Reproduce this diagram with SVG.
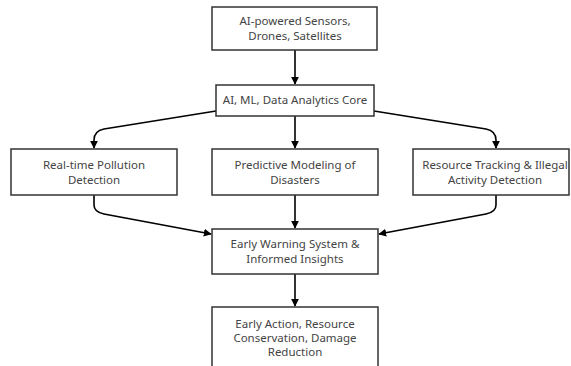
<svg xmlns="http://www.w3.org/2000/svg" width="571" height="366" viewBox="0 0 571 366">
<style>
.box{fill:#ffffff;stroke:#333333;stroke-width:1.5}
.lbl{font-family:"Noto Sans","Liberation Sans",sans-serif;font-size:11.5px;fill:#444444;text-anchor:middle}
.edge{fill:none;stroke:#000000;stroke-width:1.6}
</style>
<defs>
<marker id="arr" viewBox="0 0 10 10" refX="9" refY="5" markerWidth="8" markerHeight="8" markerUnits="userSpaceOnUse" orient="auto">
<path d="M0,0 L10,5 L0,10 z" fill="#000000"/>
</marker>
</defs>
<rect width="571" height="366" fill="#ffffff"/>
<g id="edges">
<path class="edge" marker-end="url(#arr)" d="M295,50 L295,84"/>
<path class="edge" marker-end="url(#arr)" d="M216,111 L104,129 Q94,131 94,140 L94,148"/>
<path class="edge" marker-end="url(#arr)" d="M295,116 L295,148"/>
<path class="edge" marker-end="url(#arr)" d="M374,111 L486,129 Q496,131 496,140 L496,148"/>
<path class="edge" marker-end="url(#arr)" d="M94,195 L94,205 Q94,212 104,214 L211,234"/>
<path class="edge" marker-end="url(#arr)" d="M295,195 L295,228"/>
<path class="edge" marker-end="url(#arr)" d="M496,195 L496,205 Q496,212 486,214 L379,234"/>
<path class="edge" marker-end="url(#arr)" d="M295,274 L295,306"/>
</g>
<g id="sensors">
<rect class="box" x="212" y="7" width="165" height="43"/>
<text class="lbl" x="295" y="25">AI-powered Sensors,</text>
<text class="lbl" x="295" y="40">Drones, Satellites</text>
</g>
<g id="core">
<rect class="box" x="216" y="85" width="158" height="31"/>
<text class="lbl" x="295" y="104">AI, ML, Data Analytics Core</text>
</g>
<g id="pollution">
<rect class="box" x="11" y="149" width="166" height="46"/>
<text class="lbl" x="94" y="168.5">Real-time Pollution</text>
<text class="lbl" x="94" y="183.5">Detection</text>
</g>
<g id="disasters">
<rect class="box" x="212" y="149" width="166" height="46"/>
<text class="lbl" x="295" y="168.5">Predictive Modeling of</text>
<text class="lbl" x="295" y="183.5">Disasters</text>
</g>
<g id="resources">
<rect class="box" x="413" y="149" width="156" height="46"/>
<text class="lbl" x="495" y="168.5">Resource Tracking &amp; Illegal</text>
<text class="lbl" x="495" y="183.5">Activity Detection</text>
</g>
<g id="warning">
<rect class="box" x="212" y="229" width="166" height="45"/>
<text class="lbl" x="295" y="248">Early Warning System &amp;</text>
<text class="lbl" x="295" y="263">Informed Insights</text>
</g>
<g id="action">
<rect class="box" x="212" y="307" width="166" height="62"/>
<text class="lbl" x="295" y="328">Early Action, Resource</text>
<text class="lbl" x="295" y="342">Conservation, Damage</text>
<text class="lbl" x="295" y="356">Reduction</text>
</g>
</svg>
